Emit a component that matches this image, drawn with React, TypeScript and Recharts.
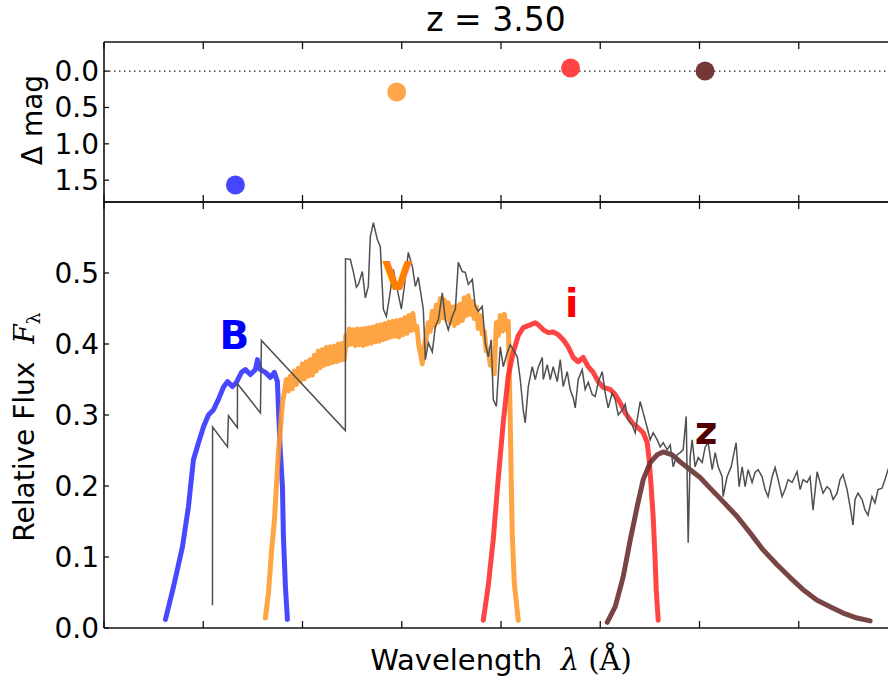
import React from 'react';
import {
  ComposedChart,
  Line,
  Scatter,
  XAxis,
  YAxis,
  ReferenceLine,
  ReferenceDot,
} from 'recharts';

// axis ticks
const waveTicks = [3000, 4000, 5000, 6000, 7000, 8000, 9000, 10000, 11000];
const fluxTicks = [0, 0.1, 0.2, 0.3, 0.4, 0.5];
const magTicks = [0, 0.5, 1.0, 1.5];

// top panel: magnitude offset per band
const bands = ['B', 'V', 'i', 'z'];
const bandWave = [4324, 5949, 7701, 9056];
const deltaMag = [1.567, 0.287, -0.043, 0.0];

// where the band names are written (wavelength, flux)
const labelWave = [4314, 5955, 7711, 9067];
const labelFlux = [0.412, 0.496, 0.458, 0.278];

// galaxy spectrum at z = 3.50, [wavelength (A), relative flux]
const spectrum: [number, number][] = [
  [4093, 0.032], [4094, 0.283], [4244, 0.255], [4254, 0.299], [4344, 0.282], [4345, 0.344],
  [4576, 0.303], [4586, 0.405], [5432, 0.278], [5433, 0.52], [5482, 0.519], [5512, 0.502],
  [5543, 0.48], [5563, 0.484], [5603, 0.502], [5633, 0.465], [5663, 0.481], [5683, 0.551],
  [5714, 0.571], [5754, 0.547], [5784, 0.537], [5815, 0.449], [5845, 0.439], [5885, 0.474],
  [5915, 0.505], [5955, 0.477], [5996, 0.449], [6026, 0.481], [6066, 0.529], [6107, 0.509],
  [6137, 0.481], [6167, 0.494], [6217, 0.449], [6238, 0.378], [6268, 0.402], [6308, 0.389],
  [6339, 0.425], [6369, 0.434], [6409, 0.472], [6439, 0.434], [6469, 0.42], [6509, 0.439],
  [6540, 0.449], [6570, 0.515], [6610, 0.502], [6640, 0.501], [6671, 0.484], [6711, 0.491],
  [6741, 0.453], [6771, 0.446], [6811, 0.453], [6842, 0.402], [6872, 0.382], [6902, 0.406],
  [6922, 0.322], [6953, 0.312], [6973, 0.357], [6993, 0.396], [7023, 0.368], [7063, 0.388],
  [7093, 0.399], [7123, 0.392], [7164, 0.382], [7194, 0.35], [7224, 0.307], [7244, 0.289],
  [7275, 0.34], [7315, 0.368], [7345, 0.35], [7375, 0.367], [7416, 0.381], [7426, 0.35],
  [7466, 0.371], [7496, 0.35], [7526, 0.368], [7567, 0.347], [7597, 0.378], [7627, 0.34],
  [7667, 0.361], [7697, 0.336], [7728, 0.324], [7748, 0.31], [7778, 0.35], [7818, 0.364],
  [7848, 0.336], [7879, 0.346], [7919, 0.329], [7949, 0.326], [7979, 0.346], [8020, 0.361],
  [8050, 0.331], [8080, 0.31], [8120, 0.331], [8151, 0.322], [8181, 0.3], [8221, 0.307],
  [8251, 0.315], [8281, 0.293], [8322, 0.286], [8352, 0.275], [8372, 0.293], [8402, 0.319],
  [8433, 0.303], [8473, 0.282], [8503, 0.265], [8533, 0.275], [8574, 0.265], [8604, 0.255],
  [8634, 0.261], [8674, 0.251], [8705, 0.258], [8735, 0.227], [8775, 0.244], [8805, 0.247],
  [8835, 0.251], [8866, 0.298], [8886, 0.12], [8906, 0.241], [8926, 0.265], [8956, 0.227],
  [8987, 0.24], [9027, 0.233], [9057, 0.255], [9087, 0.261], [9128, 0.223], [9158, 0.247],
  [9188, 0.227], [9228, 0.213], [9238, 0.185], [9278, 0.213], [9319, 0.227], [9369, 0.261],
  [9399, 0.199], [9430, 0.227], [9460, 0.199], [9490, 0.223], [9530, 0.205], [9560, 0.219],
  [9591, 0.223], [9631, 0.213], [9661, 0.195], [9691, 0.185], [9732, 0.213], [9762, 0.226],
  [9792, 0.209], [9832, 0.185], [9862, 0.195], [9893, 0.209], [9933, 0.205], [9983, 0.22],
  [10014, 0.195], [10044, 0.209], [10084, 0.205], [10114, 0.213], [10144, 0.166], [10185, 0.22],
  [10215, 0.205], [10245, 0.19], [10285, 0.199], [10316, 0.195], [10346, 0.181], [10386, 0.19],
  [10416, 0.209], [10446, 0.216], [10487, 0.195], [10517, 0.171], [10547, 0.145], [10567, 0.181],
  [10597, 0.19], [10638, 0.181], [10668, 0.166], [10698, 0.159], [10738, 0.185], [10768, 0.176],
  [10799, 0.195], [10839, 0.197], [10869, 0.209], [10899, 0.223], [10970, 0.244],
];

// filter curves weighted by the spectrum
const filterB: [number, number][] = [
  [3619, 0.012], [3700, 0.058], [3790, 0.114], [3851, 0.171], [3901, 0.237], [3952, 0.261],
  [4002, 0.283], [4052, 0.3], [4102, 0.307], [4153, 0.322], [4203, 0.339], [4244, 0.347],
  [4294, 0.34], [4334, 0.346], [4385, 0.36], [4425, 0.364], [4475, 0.357], [4526, 0.364],
  [4546, 0.378], [4576, 0.364], [4626, 0.36], [4677, 0.353], [4717, 0.36], [4747, 0.347],
  [4757, 0.312], [4777, 0.247], [4798, 0.199], [4808, 0.128], [4828, 0.058], [4848, 0.012],
];

const filterV: [number, number][] = [
  [4626, 0.014], [4657, 0.049], [4687, 0.106], [4717, 0.152], [4737, 0.199], [4757, 0.247],
  [4777, 0.279], [4798, 0.317], [4818, 0.333], [4838, 0.35], [4858, 0.334], [4878, 0.355],
  [4898, 0.337], [4918, 0.362], [4939, 0.343], [4959, 0.366], [4979, 0.348], [4999, 0.372],
  [5019, 0.351], [5039, 0.375], [5059, 0.355], [5079, 0.378], [5100, 0.356], [5120, 0.384],
  [5140, 0.362], [5160, 0.39], [5180, 0.367], [5200, 0.392], [5220, 0.37], [5240, 0.395],
  [5261, 0.372], [5281, 0.396], [5301, 0.374], [5321, 0.397], [5341, 0.375], [5361, 0.4],
  [5381, 0.377], [5401, 0.401], [5420, 0.378], [5430, 0.39], [5436, 0.412], [5452, 0.398],
  [5472, 0.421], [5492, 0.4], [5512, 0.42], [5532, 0.398], [5552, 0.421], [5572, 0.399],
  [5592, 0.421], [5612, 0.398], [5632, 0.422], [5652, 0.4], [5672, 0.423], [5692, 0.401],
  [5712, 0.424], [5732, 0.403], [5752, 0.426], [5772, 0.404], [5792, 0.427], [5812, 0.406],
  [5832, 0.429], [5852, 0.408], [5872, 0.431], [5892, 0.41], [5912, 0.432], [5932, 0.411],
  [5952, 0.433], [5972, 0.41], [5992, 0.434], [6012, 0.413], [6032, 0.437], [6052, 0.415],
  [6072, 0.44], [6092, 0.419], [6112, 0.443], [6132, 0.42], [6152, 0.425], [6172, 0.398],
  [6192, 0.384], [6207, 0.372], [6228, 0.398], [6248, 0.41], [6268, 0.43], [6288, 0.418],
  [6308, 0.446], [6328, 0.425], [6348, 0.455], [6368, 0.431], [6389, 0.464], [6409, 0.437],
  [6429, 0.462], [6449, 0.435], [6469, 0.458], [6489, 0.43], [6510, 0.452], [6530, 0.426],
  [6550, 0.454], [6570, 0.43], [6590, 0.456], [6610, 0.433], [6630, 0.465], [6650, 0.44],
  [6671, 0.468], [6691, 0.442], [6711, 0.46], [6731, 0.436], [6751, 0.452], [6771, 0.422],
  [6791, 0.44], [6811, 0.414], [6832, 0.418], [6852, 0.39], [6872, 0.392], [6892, 0.37],
  [6912, 0.376], [6932, 0.358], [6953, 0.43], [6973, 0.412], [6993, 0.44], [7013, 0.418],
  [7033, 0.442], [7053, 0.42], [7073, 0.432], [7083, 0.368], [7093, 0.293], [7103, 0.209],
  [7113, 0.134], [7134, 0.063], [7174, 0.011],
];

const filterI: [number, number][] = [
  [6822, 0.011], [6872, 0.06], [6922, 0.125], [6972, 0.21], [7023, 0.29], [7073, 0.355],
  [7123, 0.388], [7174, 0.412], [7224, 0.423], [7295, 0.427], [7345, 0.43], [7375, 0.427],
  [7426, 0.42], [7476, 0.416], [7526, 0.417], [7577, 0.413], [7627, 0.406], [7677, 0.396],
  [7728, 0.381], [7778, 0.375], [7828, 0.381], [7879, 0.368], [7929, 0.36], [7979, 0.347],
  [8030, 0.339], [8100, 0.336], [8151, 0.329], [8201, 0.317], [8251, 0.303], [8322, 0.289],
  [8382, 0.282], [8433, 0.275], [8473, 0.261], [8493, 0.237], [8513, 0.199], [8533, 0.157],
  [8553, 0.096], [8564, 0.054], [8584, 0.011],
];

const filterZ: [number, number][] = [
  [8070, 0.008], [8151, 0.03], [8231, 0.072], [8302, 0.124], [8372, 0.171], [8433, 0.209],
  [8503, 0.233], [8574, 0.244], [8634, 0.248], [8725, 0.244], [8805, 0.234], [8906, 0.223],
  [9006, 0.212], [9107, 0.197], [9238, 0.178], [9379, 0.157], [9510, 0.134], [9641, 0.11],
  [9782, 0.089], [9913, 0.071], [10044, 0.054], [10185, 0.039], [10316, 0.03], [10447, 0.021],
  [10588, 0.014], [10719, 0.01],
];

const lineColors = ['#3434ff', '#ff9a2e', '#ff3030', '#6a3030'];
const dotColors = ['#3c3cff', '#ffa040', '#ff3a3a', '#6e2c2c'];
const nameColors = ['#0000ff', '#ff8000', '#ff0000', '#520000'];

const rows = (pts: [number, number][]) => pts.map(([w, f]) => ({ w, f }));
const magRows = bands.map((b, i) => ({ w: bandWave[i], m: deltaMag[i], band: b }));

const FONT = 'DejaVu Sans, Bitstream Vera Sans, sans-serif';
const SERIF = 'DejaVu Serif, Liberation Serif, serif';
const axisLine = { stroke: '#111', strokeWidth: 1.6 };
const tickLine = { stroke: '#111', strokeWidth: 1.3 };
const tickFont = { fontSize: 28, fill: '#000', fontFamily: FONT };
const fmt = (v: number) => v.toFixed(1);
const noLabel = () => <g />;

const BandDot = (p: any) => (
  <circle
    cx={p.cx}
    cy={p.cy}
    r={9.5}
    fill={dotColors[bands.indexOf(p.payload.band)]}
    fillOpacity={0.95}
  />
);

// shared wavelength axes (bottom + mirrored top), inward ticks, no labels
function waveAxis(id: string, top: boolean) {
  return (
    <XAxis
      key={id}
      xAxisId={id}
      orientation={top ? 'top' : 'bottom'}
      dataKey="w"
      type="number"
      domain={[3000, 11000]}
      ticks={waveTicks}
      interval={0}
      height={1}
      tick={noLabel}
      tickSize={-7}
      axisLine={axisLine}
      tickLine={tickLine}
      allowDataOverflow
    />
  );
}

export default function App() {
  const filters = [filterB, filterV, filterI, filterZ];
  return (
    <div
      style={{
        position: 'fixed',
        left: 0,
        top: 0,
        width: 888,
        height: 681,
        overflow: 'hidden',
        background: '#fff',
      }}
    >
      {/* Δ mag panel */}
      <div style={{ position: 'absolute', left: 0, top: 0 }}>
        <ComposedChart width={900} height={210} margin={{ top: 41, right: 2, bottom: 7, left: 0 }}>
          {waveAxis('b', false)}
          {waveAxis('t', true)}
          <YAxis
            dataKey="m"
            type="number"
            reversed
            domain={[-0.4, 1.8]}
            ticks={magTicks}
            interval={0}
            width={104}
            tickSize={-5}
            tickMargin={10}
            tickFormatter={fmt}
            tick={tickFont}
            axisLine={axisLine}
            tickLine={tickLine}
            allowDataOverflow
          />
          <ReferenceLine
            xAxisId="b"
            y={0}
            stroke="#222"
            strokeWidth={1.4}
            strokeDasharray="1.5 3.5"
          />
          <Scatter xAxisId="b" data={magRows} shape={BandDot} isAnimationActive={false} />
          {/* keeps the top axis bound to the same scale */}
          <Scatter xAxisId="t" data={magRows} shape={noLabel} isAnimationActive={false} />
        </ComposedChart>
      </div>

      {/* spectrum + filters panel */}
      <div style={{ position: 'absolute', left: 0, top: 0 }}>
        <ComposedChart width={900} height={681} margin={{ top: 201, right: 2, bottom: 52, left: 0 }}>
          {waveAxis('b', false)}
          {waveAxis('t', true)}
          <YAxis
            dataKey="f"
            type="number"
            domain={[0, 0.6]}
            ticks={fluxTicks}
            interval={0}
            width={104}
            tickSize={-5}
            tickMargin={10}
            tickFormatter={fmt}
            tick={tickFont}
            axisLine={axisLine}
            tickLine={tickLine}
            allowDataOverflow
          />
          {filters.map((pts, i) => (
            <Line
              key={bands[i]}
              xAxisId={i === 1 ? 't' : 'b'}
              data={rows(pts)}
              dataKey="f"
              type="linear"
              dot={false}
              activeDot={false}
              stroke={lineColors[i]}
              strokeOpacity={0.9}
              strokeWidth={5}
              strokeLinejoin="round"
              strokeLinecap="round"
              isAnimationActive={false}
            />
          ))}
          <Line
            xAxisId="b"
            data={rows(spectrum)}
            dataKey="f"
            type="linear"
            dot={false}
            activeDot={false}
            stroke="#505050"
            strokeWidth={1.5}
            isAnimationActive={false}
          />
          {bands.map((b, i) => (
            <ReferenceDot
              key={'lab' + b}
              xAxisId="b"
              x={labelWave[i]}
              y={labelFlux[i]}
              r={0}
              stroke="none"
              label={{
                value: b,
                position: 'center',
                fill: nameColors[i],
                fontSize: 39,
                fontWeight: 'bold',
                fontFamily: FONT,
              }}
            />
          ))}
        </ComposedChart>
      </div>

      {/* titles and axis labels */}
      <svg
        width={888}
        height={681}
        style={{ position: 'absolute', left: 0, top: 0, pointerEvents: 'none' }}
      >
        <text x={496} y={31} textAnchor="middle" fontSize={33} fontFamily={FONT} fill="#000">
          z = 3.50
        </text>
        <text
          transform="translate(42,120) rotate(-90)"
          textAnchor="middle"
          fontSize={28}
          fontFamily={FONT}
          fill="#000"
        >
          Δ mag
        </text>
        <text
          transform="translate(34,427) rotate(-90)"
          textAnchor="middle"
          fontSize={28}
          fontFamily={FONT}
          fill="#000"
        >
          {'Relative Flux\u00a0\u00a0'}
          <tspan fontFamily={SERIF} fontStyle="italic">F</tspan>
          <tspan fontFamily={SERIF} fontSize={19} dy={6}>λ</tspan>
        </text>
        <text x={501} y={670} textAnchor="middle" fontSize={29} fontFamily={FONT} fill="#000">
          {'Wavelength\u00a0\u00a0'}
          <tspan fontFamily={SERIF} fontStyle="italic">λ</tspan>
          <tspan fontFamily={SERIF}>{'\u00a0(Å)'}</tspan>
        </text>
      </svg>
    </div>
  );
}
